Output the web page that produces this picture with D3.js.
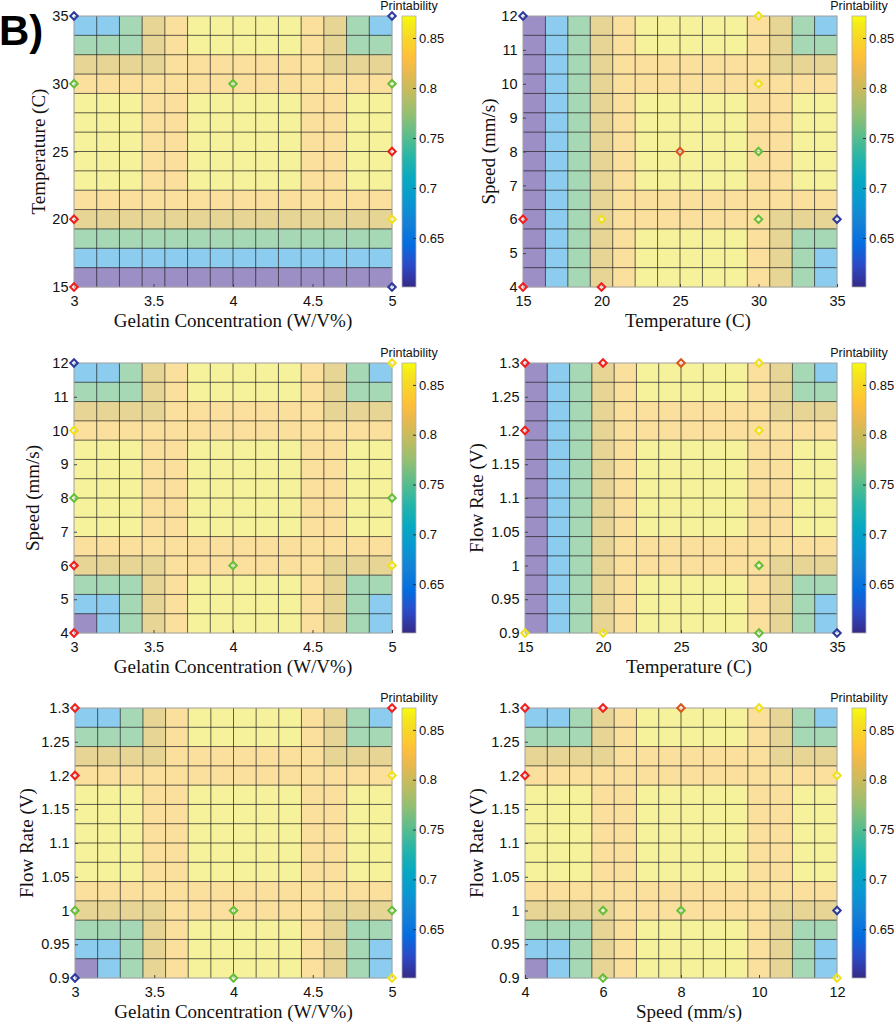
<!DOCTYPE html>
<html><head><meta charset="utf-8">
<script src="https://cdn.jsdelivr.net/npm/d3@7"></script>
<style>body{margin:0;background:#fff;} svg{display:block;}</style>
</head><body>
<svg id="c" width="894" height="1025"></svg>
<script>
// ---------- DATA ----------
const gelTicks = [3, 3.5, 4, 4.5, 5];
const tempTicks = [15, 20, 25, 30, 35];
const speedTicksY = [4, 5, 6, 7, 8, 9, 10, 11, 12];
const speedTicksX = [4, 6, 8, 10, 12];
const flowTicks = [0.9, 0.95, 1, 1.05, 1.1, 1.15, 1.2, 1.25, 1.3];
const cbDomain = [0.601, 0.872];
const cbTicks = [0.65, 0.7, 0.75, 0.8, 0.85];

// printability per cell, rows top -> bottom, columns left -> right
const gridTempGel = [
[.69,.69,.76,.80,.83,.86,.86,.86,.86,.86,.83,.80,.76,.69],
[.76,.76,.76,.80,.83,.86,.86,.86,.86,.86,.83,.80,.76,.76],
[.80,.80,.80,.80,.83,.83,.83,.83,.83,.83,.83,.80,.80,.80],
[.83,.83,.83,.83,.83,.83,.83,.83,.83,.83,.83,.83,.83,.83],
[.86,.86,.86,.83,.83,.86,.86,.86,.86,.86,.83,.83,.86,.86],
[.86,.86,.86,.83,.83,.86,.86,.86,.86,.86,.83,.83,.86,.86],
[.86,.86,.86,.83,.83,.86,.86,.86,.86,.86,.83,.83,.86,.86],
[.86,.86,.86,.83,.83,.86,.86,.86,.86,.86,.83,.83,.86,.86],
[.86,.86,.86,.83,.83,.86,.86,.86,.86,.86,.83,.83,.86,.86],
[.83,.83,.83,.83,.83,.83,.83,.83,.83,.83,.83,.83,.83,.83],
[.80,.80,.80,.80,.80,.80,.80,.80,.80,.80,.80,.80,.80,.80],
[.76,.76,.76,.76,.76,.76,.76,.76,.76,.76,.76,.76,.76,.76],
[.69,.69,.69,.69,.69,.69,.69,.69,.69,.69,.69,.69,.69,.69],
[.61,.61,.61,.61,.61,.61,.61,.61,.61,.61,.61,.61,.61,.61]];

const gridSpeedTemp = [
[.61,.69,.76,.80,.83,.86,.86,.86,.86,.86,.83,.80,.76,.69],
[.61,.69,.76,.80,.83,.86,.86,.86,.86,.86,.83,.80,.76,.76],
[.61,.69,.76,.80,.83,.83,.83,.83,.83,.83,.83,.80,.80,.80],
[.61,.69,.76,.80,.83,.83,.83,.83,.83,.83,.83,.83,.83,.83],
[.61,.69,.76,.80,.83,.86,.86,.86,.86,.86,.83,.83,.86,.86],
[.61,.69,.76,.80,.83,.86,.86,.86,.86,.86,.83,.83,.86,.86],
[.61,.69,.76,.80,.83,.86,.86,.86,.86,.86,.83,.83,.86,.86],
[.61,.69,.76,.80,.83,.86,.86,.86,.86,.86,.83,.83,.86,.86],
[.61,.69,.76,.80,.83,.86,.86,.86,.86,.86,.83,.83,.86,.86],
[.61,.69,.76,.80,.83,.83,.83,.83,.83,.83,.83,.83,.83,.83],
[.61,.69,.76,.80,.83,.83,.83,.83,.83,.83,.83,.80,.80,.80],
[.61,.69,.76,.80,.83,.86,.86,.86,.86,.86,.83,.80,.76,.76],
[.61,.69,.76,.80,.83,.86,.86,.86,.86,.86,.83,.80,.76,.69],
[.61,.69,.76,.80,.83,.86,.86,.86,.86,.86,.83,.80,.76,.69]];

const gridSpeedGel = [
[.69,.69,.76,.80,.83,.86,.86,.86,.86,.86,.83,.80,.76,.69],
[.76,.76,.76,.80,.83,.86,.86,.86,.86,.86,.83,.80,.76,.76],
[.80,.80,.80,.80,.83,.83,.83,.83,.83,.83,.83,.80,.80,.80],
[.83,.83,.83,.83,.83,.83,.83,.83,.83,.83,.83,.83,.83,.83],
[.86,.86,.86,.83,.83,.86,.86,.86,.86,.86,.83,.83,.86,.86],
[.86,.86,.86,.83,.83,.86,.86,.86,.86,.86,.83,.83,.86,.86],
[.86,.86,.86,.83,.83,.86,.86,.86,.86,.86,.83,.83,.86,.86],
[.86,.86,.86,.83,.83,.86,.86,.86,.86,.86,.83,.83,.86,.86],
[.86,.86,.86,.83,.83,.86,.86,.86,.86,.86,.83,.83,.86,.86],
[.83,.83,.83,.83,.83,.83,.83,.83,.83,.83,.83,.83,.83,.83],
[.80,.80,.80,.80,.83,.83,.83,.83,.83,.83,.83,.80,.80,.80],
[.76,.76,.76,.80,.83,.86,.86,.86,.86,.86,.83,.80,.76,.76],
[.69,.69,.76,.80,.83,.86,.86,.86,.86,.86,.83,.80,.76,.69],
[.61,.69,.76,.80,.83,.86,.86,.86,.86,.86,.83,.80,.76,.69]];

const gridFlowTemp = [
[.61,.69,.76,.80,.83,.86,.86,.86,.86,.86,.83,.80,.76,.69],
[.61,.69,.76,.80,.83,.86,.86,.86,.86,.86,.83,.80,.76,.76],
[.61,.69,.76,.80,.83,.83,.83,.83,.83,.83,.83,.80,.80,.80],
[.61,.69,.76,.80,.83,.83,.83,.83,.83,.83,.83,.83,.83,.83],
[.61,.69,.76,.80,.83,.86,.86,.86,.86,.86,.83,.83,.86,.86],
[.61,.69,.76,.80,.83,.86,.86,.86,.86,.86,.83,.83,.86,.86],
[.61,.69,.76,.80,.83,.86,.86,.86,.86,.86,.83,.83,.86,.86],
[.61,.69,.76,.80,.83,.86,.86,.86,.86,.86,.83,.83,.86,.86],
[.61,.69,.76,.80,.83,.86,.86,.86,.86,.86,.83,.83,.86,.86],
[.61,.69,.76,.80,.83,.83,.83,.83,.83,.83,.83,.83,.83,.83],
[.61,.69,.76,.80,.83,.83,.83,.83,.83,.83,.83,.80,.80,.80],
[.61,.69,.76,.80,.83,.86,.86,.86,.86,.86,.83,.80,.76,.76],
[.61,.69,.76,.80,.83,.86,.86,.86,.86,.86,.83,.80,.76,.69],
[.61,.69,.76,.80,.83,.86,.86,.86,.86,.86,.83,.80,.76,.69]];

const gridFlowGel = [
[.69,.69,.76,.80,.83,.86,.86,.86,.86,.86,.83,.80,.76,.69],
[.76,.76,.76,.80,.83,.86,.86,.86,.86,.86,.83,.80,.76,.76],
[.80,.80,.80,.80,.83,.83,.83,.83,.83,.83,.83,.80,.80,.80],
[.83,.83,.83,.83,.83,.83,.83,.83,.83,.83,.83,.83,.83,.83],
[.86,.86,.86,.83,.83,.86,.86,.86,.86,.86,.83,.83,.86,.86],
[.86,.86,.86,.83,.83,.86,.86,.86,.86,.86,.83,.83,.86,.86],
[.86,.86,.86,.83,.83,.86,.86,.86,.86,.86,.83,.83,.86,.86],
[.86,.86,.86,.83,.83,.86,.86,.86,.86,.86,.83,.83,.86,.86],
[.86,.86,.86,.83,.83,.86,.86,.86,.86,.86,.83,.83,.86,.86],
[.83,.83,.83,.83,.83,.83,.83,.83,.83,.83,.83,.83,.83,.83],
[.80,.80,.80,.80,.83,.83,.83,.83,.83,.83,.83,.80,.80,.80],
[.76,.76,.76,.80,.83,.86,.86,.86,.86,.86,.83,.80,.76,.76],
[.69,.69,.76,.80,.83,.86,.86,.86,.86,.86,.83,.80,.76,.69],
[.61,.69,.76,.80,.83,.86,.86,.86,.86,.86,.83,.80,.76,.69]];

const gridFlowSpeed = [
[.69,.69,.76,.80,.83,.86,.86,.86,.86,.86,.83,.80,.76,.69],
[.76,.76,.76,.80,.83,.86,.86,.86,.86,.86,.83,.80,.76,.76],
[.80,.80,.80,.80,.83,.83,.83,.83,.83,.83,.83,.80,.80,.80],
[.83,.83,.83,.83,.83,.83,.83,.83,.83,.83,.83,.83,.83,.83],
[.86,.86,.86,.83,.83,.86,.86,.86,.86,.86,.83,.83,.86,.86],
[.86,.86,.86,.83,.83,.86,.86,.86,.86,.86,.83,.83,.86,.86],
[.86,.86,.86,.83,.83,.86,.86,.86,.86,.86,.83,.83,.86,.86],
[.86,.86,.86,.83,.83,.86,.86,.86,.86,.86,.83,.83,.86,.86],
[.86,.86,.86,.83,.83,.86,.86,.86,.86,.86,.83,.83,.86,.86],
[.83,.83,.83,.83,.83,.83,.83,.83,.83,.83,.83,.83,.83,.83],
[.80,.80,.80,.80,.83,.83,.83,.83,.83,.83,.83,.80,.80,.80],
[.76,.76,.76,.80,.83,.86,.86,.86,.86,.86,.83,.80,.76,.76],
[.69,.69,.76,.80,.83,.86,.86,.86,.86,.86,.83,.80,.76,.69],
[.61,.69,.76,.80,.83,.86,.86,.86,.86,.86,.83,.80,.76,.69]];

// experimental points [x, y, group]
const ptsTempGel = [[3,35,"blue"],[5,35,"blue"],[3,30,"green"],[4,30,"green"],[5,30,"green"],[5,25,"red"],[3,20,"red"],[5,20,"yellow"],[3,15,"red"],[5,15,"blue"]];
const ptsSpeedTemp = [[15,12,"blue"],[30,12,"yellow"],[30,10,"yellow"],[25,8,"orange"],[30,8,"green"],[15,6,"red"],[20,6,"yellow"],[30,6,"green"],[35,6,"blue"],[15,4,"red"],[20,4,"red"]];
const ptsSpeedGel = [[3,12,"blue"],[5,12,"yellow"],[3,10,"yellow"],[3,8,"green"],[5,8,"green"],[3,6,"red"],[4,6,"green"],[5,6,"yellow"],[3,4,"red"]];
const ptsFlowTemp = [[15,1.3,"red"],[20,1.3,"red"],[25,1.3,"orange"],[30,1.3,"yellow"],[15,1.2,"red"],[30,1.2,"yellow"],[30,1.0,"green"],[15,0.9,"yellow"],[20,0.9,"yellow"],[30,0.9,"green"],[35,0.9,"blue"]];
const ptsFlowGel = [[3,1.3,"red"],[5,1.3,"red"],[3,1.2,"red"],[5,1.2,"yellow"],[3,1.0,"green"],[4,1.0,"green"],[5,1.0,"green"],[3,0.9,"blue"],[4,0.9,"green"],[5,0.9,"yellow"]];
const ptsFlowSpeed = [[4,1.3,"red"],[6,1.3,"red"],[8,1.3,"orange"],[10,1.3,"yellow"],[4,1.2,"red"],[12,1.2,"yellow"],[6,1.0,"green"],[8,1.0,"green"],[12,1.0,"blue"],[6,0.9,"green"],[12,0.9,"yellow"]];

// ---------- COLORMAP (parula) ----------
const parulaPos = [0, 5, 10, 15, 20, 25, 30, 35, 40, 45, 50, 53, 55, 58, 61, 63];
const parulaHex = ["#352a87","#2c4ac7","#046de0","#1481d6","#0998d1","#07a9c2","#25b5a9","#59bd8c","#92bf73","#c0bc60","#e9b94e","#fdbe3d","#fec832","#f7d826","#f5eb18","#f9fb0e"];

const cellColor = d3.scaleThreshold()
  .domain([0.65, 0.725, 0.78, 0.815, 0.845])
  .range(["#9b8fc6","#8ccdef","#a7d8b6","#e7d596","#fbe09d","#f6f19b"]);
const ptColor = d3.scaleOrdinal()
  .domain(["blue","green","yellow","red","orange"])
  .range(["#2e3a9e","#66bf38","#f0e01a","#f21d1d","#d8561c"]);

const svg = d3.select("#c");
const defs = svg.append("defs");
const grad = defs.append("linearGradient").attr("id","parula")
  .attr("x1",0).attr("y1",1).attr("x2",0).attr("y2",0);
parulaPos.forEach((p,i)=>grad.append("stop").attr("offset",p/63).attr("stop-color",parulaHex[i]));

const SANS = "'Liberation Sans', Arial, Helvetica, sans-serif";
const SERIF = "'Liberation Serif', 'Times New Roman', serif";

const panels = [
 {grid:gridTempGel, pts:ptsTempGel, xd:[3,5], yd:[15,35], xt:gelTicks, yt:tempTicks,
  xl:"Gelatin Concentration (W/V%)", yl:"Temperature (C)", box:[74,392,16,287], cbx:402, ylx:45, xlDx:0},
 {grid:gridSpeedTemp, pts:ptsSpeedTemp, xd:[15,35], yd:[4,12], xt:tempTicks, yt:speedTicksY,
  xl:"Temperature (C)", yl:"Speed (mm/s)", box:[523,837,16,287], cbx:852, ylx:495, xlDx:8},
 {grid:gridSpeedGel, pts:ptsSpeedGel, xd:[3,5], yd:[4,12], xt:gelTicks, yt:speedTicksY,
  xl:"Gelatin Concentration (W/V%)", yl:"Speed (mm/s)", box:[74,392,363,633], cbx:402, ylx:39, xlDx:0},
 {grid:gridFlowTemp, pts:ptsFlowTemp, xd:[15,35], yd:[0.9,1.3], xt:tempTicks, yt:flowTicks,
  xl:"Temperature (C)", yl:"Flow Rate (V)", box:[525,837,363,633], cbx:852, ylx:483, xlDx:8},
 {grid:gridFlowGel, pts:ptsFlowGel, xd:[3,5], yd:[0.9,1.3], xt:gelTicks, yt:flowTicks,
  xl:"Gelatin Concentration (W/V%)", yl:"Flow Rate (V)", box:[75,392,708,978], cbx:402, ylx:33, xlDx:0},
 {grid:gridFlowSpeed, pts:ptsFlowSpeed, xd:[4,12], yd:[0.9,1.3], xt:speedTicksX, yt:flowTicks,
  xl:"Speed (mm/s)", yl:"Flow Rate (V)", box:[525,837,708,978], cbx:852, ylx:483, xlDx:8}
];

const fmt = d => String(d);

panels.forEach(p => {
  const [x0,x1,y0,y1] = p.box;
  const g = svg.append("g");
  const x = d3.scaleLinear().domain(p.xd).range([x0,x1]);
  const y = d3.scaleLinear().domain(p.yd).range([y1,y0]);
  const nR = p.grid.length, nC = p.grid[0].length;
  const xb = d3.scaleBand().domain(d3.range(nC)).range([x0,x1]);
  const yb = d3.scaleBand().domain(d3.range(nR)).range([y0,y1]);

  // cells
  const cells = [];
  p.grid.forEach((row,r)=>row.forEach((v,c)=>cells.push({r,c,v})));
  g.append("g").selectAll("rect").data(cells).join("rect")
    .attr("x",d=>xb(d.c)).attr("y",d=>yb(d.r))
    .attr("width",xb.bandwidth()+0.3).attr("height",yb.bandwidth()+0.3)
    .attr("fill",d=>cellColor(d.v));

  // cell edges
  const gl = g.append("g").attr("stroke","#1a1a1a").attr("stroke-opacity",0.72).attr("stroke-width",0.95);
  d3.range(1,nC).forEach(c=>gl.append("line").attr("x1",xb(c)).attr("x2",xb(c)).attr("y1",y0).attr("y2",y1));
  d3.range(1,nR).forEach(r=>gl.append("line").attr("y1",yb(r)).attr("y2",yb(r)).attr("x1",x0).attr("x2",x1));

  // box
  g.append("rect").attr("x",x0).attr("y",y0).attr("width",x1-x0).attr("height",y1-y0)
    .attr("fill","none").attr("stroke","#a0a0a0").attr("stroke-width",1);

  // axes
  const ax = g.append("g").attr("transform",`translate(0,${y1})`)
    .call(d3.axisBottom(x).tickValues(p.xt).tickFormat(fmt).tickSize(-3).tickPadding(8.5));
  const ay = g.append("g").attr("transform",`translate(${x0},0)`)
    .call(d3.axisLeft(y).tickValues(p.yt).tickFormat(fmt).tickSize(-3).tickPadding(5.5));
  [ax,ay].forEach(a=>{
    a.select(".domain").remove();
    a.selectAll(".tick line").attr("stroke","#444");
    a.selectAll(".tick text").attr("font-family",SANS).attr("font-size",14.5).attr("fill","#111");
    a.attr("font-family",null).attr("font-size",null);
  });

  // axis titles
  g.append("text").attr("x",(x0+x1)/2+p.xlDx).attr("y",y1+40)
    .attr("text-anchor","middle").attr("font-family",SERIF).attr("font-size",19).attr("fill","#111")
    .text(p.xl);
  g.append("text").attr("transform",`translate(${p.ylx},${(y0+y1)/2}) rotate(-90)`)
    .attr("text-anchor","middle").attr("font-family",SERIF).attr("font-size",19).attr("fill","#111")
    .text(p.yl);

  // points
  const sym = d3.symbol().type(d3.symbolSquare).size(28);
  g.append("g").selectAll("path").data(p.pts).join("path")
    .attr("d",sym)
    .attr("transform",d=>`translate(${x(d[0])},${y(d[1])}) rotate(45)`)
    .attr("fill","#fff").attr("fill-opacity",0.6)
    .attr("stroke",d=>ptColor(d[2])).attr("stroke-width",2);

  // colorbar
  const cbw = 14;
  const cy = d3.scaleLinear().domain(cbDomain).range([y1,y0]);
  g.append("rect").attr("x",p.cbx).attr("y",y0).attr("width",cbw).attr("height",y1-y0)
    .attr("fill","url(#parula)").attr("stroke","#b0b0b0").attr("stroke-width",0.8);
  const ac = g.append("g").attr("transform",`translate(${p.cbx+cbw},0)`)
    .call(d3.axisRight(cy).tickValues(cbTicks).tickFormat(fmt).tickSize(-3).tickPadding(3));
  ac.select(".domain").remove();
  ac.selectAll(".tick line").attr("stroke","#333");
  ac.selectAll(".tick text").attr("font-family",SANS).attr("font-size",13).attr("fill","#111");
  g.append("text").attr("x",p.cbx+cbw/2).attr("y",y0-6.5).attr("text-anchor","middle")
    .attr("font-family",SANS).attr("font-size",12.5).attr("fill","#111").text("Printability");
});

// panel letter
svg.append("text").attr("x",-1).attr("y",45).attr("font-family",SANS).attr("font-weight","bold")
  .attr("font-size",42).attr("fill","#000").text("B)");
</script></body></html>
